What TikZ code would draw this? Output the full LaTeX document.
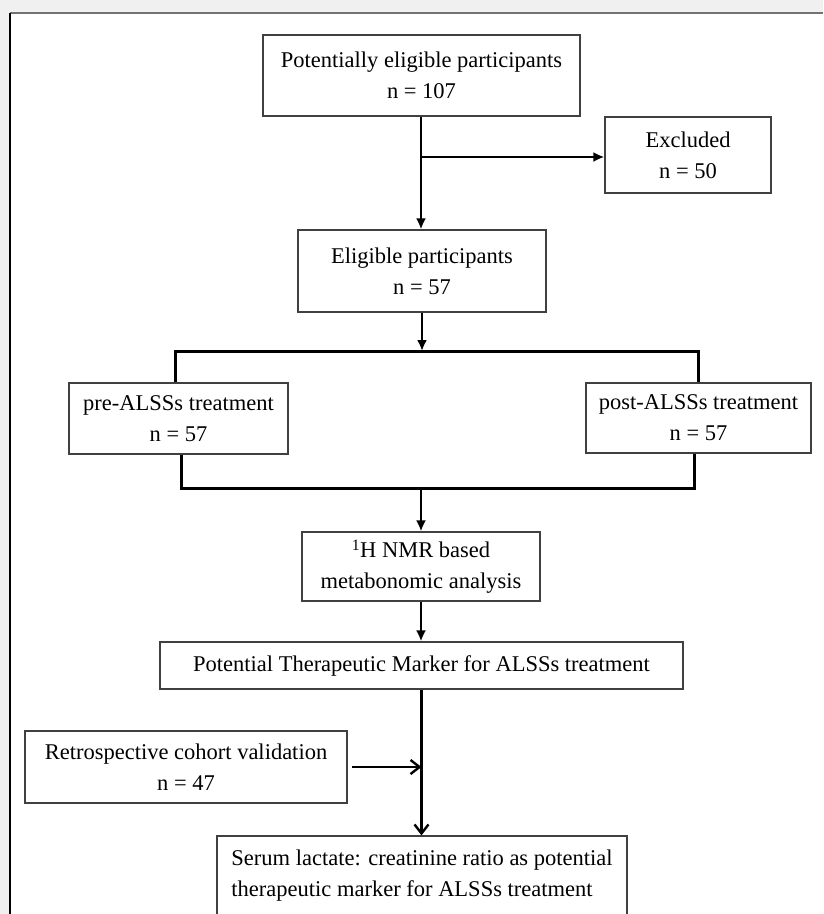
\documentclass[tikz,border=0pt]{standalone}
\usepackage{fontspec}
\setmainfont{Liberation Serif}
\usepackage{tikz}
\usetikzlibrary{shapes,arrows,arrows.meta,positioning}

\tikzset{
	box/.style={draw=black!75, line width=1.2pt, fill=white, align=center, inner sep=0pt, font=\fontsize{22.5}{31}\selectfont},
	flow/.style={line width=2.4pt},
	bar/.style={line width=3pt},
	filltip/.style={-{Latex[length=11pt,width=10pt]}},
	opentip/.style={-{Straight Barb[length=9pt,width=14pt]}}
}

\begin{document}
\begin{tikzpicture}[x=1pt, y=-1pt]
				\useasboundingbox (0,0) rectangle (823,914);
				\fill [black!6] (0,0) rectangle (823,914);
				\fill [white] (10,13) rectangle (823,914);
				\draw [black!55, line width=2pt] (10,13) -- (823,13);
				\draw [black, line width=1.2pt] (10,13) -- (10,914);

				\node [box, minimum width=317, minimum height=81] (start) at (421.5,75.5) {Potentially eligible participants\\n = 107};
				\node [box, minimum width=166, minimum height=76] (excl) at (688,155) {Excluded\\n = 50};
				\node [box, minimum width=248, minimum height=82] (elig) at (422,271) {Eligible participants\\n = 57};
				\node [box, minimum width=219, minimum height=71] (pre) at (178.5,418.5) {pre-ALSSs treatment\\n = 57};
				\node [box, minimum width=225, minimum height=70] (post) at (698.5,418) {post-ALSSs treatment\\n = 57};
				\node [box, minimum width=238, minimum height=69] (nmr) at (421,566.5) {\textsuperscript{1}H NMR based\\metabonomic analysis};
				\node [box, minimum width=523, minimum height=47] (marker) at (421.5,665.5) {Potential Therapeutic Marker for ALSSs treatment};
				\node [box, minimum width=322, minimum height=72] (retro) at (186,767) {Retrospective cohort validation\\n = 47};
				\node [box, minimum width=410, minimum height=80, align=left] (final) at (422,876) {Serum lactate: creatinine ratio as potential\\therapeutic marker for ALSSs treatment};

				\coordinate (split) at (421,157);
				\coordinate (splitL) at (175,351);
				\coordinate (splitR) at (698,351);
				\coordinate (joinL) at (181,488);
				\coordinate (joinR) at (694,488);

				% screening
				\draw [flow, filltip] (start.south -| split) -- (elig.north -| split);
				\draw [flow, filltip] (split) -- (split -| excl.west);
				\draw [flow, filltip] (elig.south) -- (elig.south |- splitL);

				% split into the two groups and join again
				\draw [bar] (splitL |- pre.north) -- (splitL) -- (splitR) -- (splitR |- post.north);
				\draw [bar] (joinL |- pre.south) -- (joinL) -- (joinR) -- (joinR |- post.south);
				\draw [flow, filltip] (nmr.north |- joinL) -- (nmr.north);

				\draw [flow, filltip] (nmr.south) -- (nmr.south |- marker.north);
				\draw [flow, opentip] (marker.south) -- (marker.south |- final.north);
				\draw [flow, opentip, shorten <=4pt] (retro.east) -- (retro.east -| marker.south);
\end{tikzpicture}
\end{document}
